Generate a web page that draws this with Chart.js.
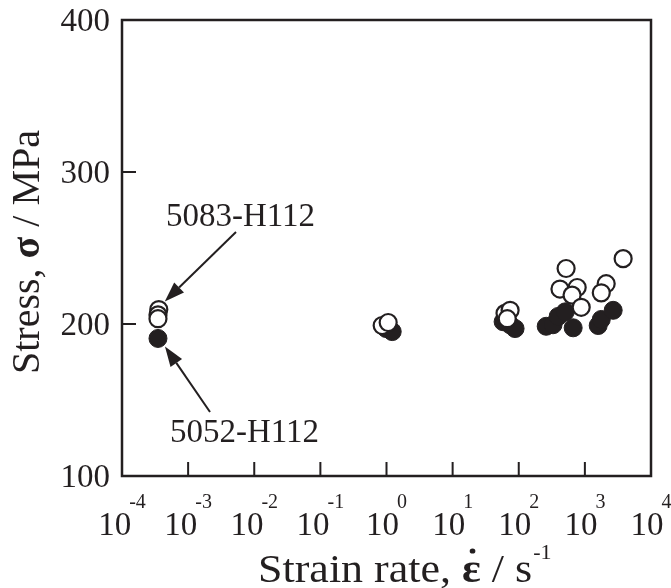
<!DOCTYPE html>
<html>
<head>
<meta charset="utf-8">
<script src="https://cdn.jsdelivr.net/npm/chart.js@4.4.1/dist/chart.umd.min.js"></script>
<style>
  html, body { margin: 0; background: #fff; }
  #wrap { width: 671px; height: 588px; }
</style>
</head>
<body>
<div id="wrap"><canvas id="chart"></canvas></div>
<script>
// 5083-H112 (open circles)
const rate5083   = [3.6e-4, 3.5e-4, 3.5e-4, 0.86, 1.06, 62, 74, 67, 520, 420, 765, 640, 880, 3790, 2100, 1770];
const stress5083 = [209.5, 206, 203.5, 199, 201, 207, 209, 203.5, 236.5, 223, 224, 219, 211, 243, 226.5, 220.5];
// 5052-H112 (filled circles)
const rate5052   = [3.5e-4, 0.99, 1.22, 58, 74, 88, 260, 330, 395, 505, 665, 1590, 1770, 2680];
const stress5052 = [190.5, 197, 195, 201.5, 199.5, 197, 198.5, 199.5, 205, 208, 197.5, 199, 203, 209];

const xExponents = [-4, -3, -2, -1, 0, 1, 2, 3, 4];
const yTicks = [100, 200, 300, 400];

const INK = '#231f20';
const SERIF = '"Liberation Serif", "Times New Roman", serif';

function arrow(ctx, x0, y0, x1, y1) {
  const ang = Math.atan2(y1 - y0, x1 - x0);
  const len = 20, half = 7;
  const bx = x1 - len * Math.cos(ang), by = y1 - len * Math.sin(ang);
  ctx.beginPath();
  ctx.moveTo(x0, y0);
  ctx.lineTo(bx, by);
  ctx.stroke();
  ctx.beginPath();
  ctx.moveTo(x1, y1);
  ctx.lineTo(bx + half * Math.sin(ang), by - half * Math.cos(ang));
  ctx.lineTo(bx - half * Math.sin(ang), by + half * Math.cos(ang));
  ctx.closePath();
  ctx.fill();
}

const decorations = {
  id: 'decorations',
  afterDatasetsDraw(chart) {
    const { ctx, chartArea: a, scales: { x, y } } = chart;
    ctx.save();
    ctx.strokeStyle = INK;
    ctx.fillStyle = INK;

    // frame + inward ticks
    ctx.lineWidth = 2.5;
    ctx.strokeRect(a.left, a.top, a.right - a.left, a.bottom - a.top);
    ctx.lineWidth = 2;
    ctx.beginPath();
    xExponents.slice(1, -1).forEach(e => {
      const px = x.getPixelForValue(Math.pow(10, e));
      ctx.moveTo(px, a.bottom); ctx.lineTo(px, a.bottom - 14);
    });
    yTicks.slice(1, -1).forEach(v => {
      const py = y.getPixelForValue(v);
      ctx.moveTo(a.left, py); ctx.lineTo(a.left + 14, py);
    });
    ctx.stroke();

    // y tick labels
    ctx.font = '33px ' + SERIF;
    ctx.textAlign = 'right';
    ctx.textBaseline = 'middle';
    yTicks.forEach(v => ctx.fillText(String(v), 110, y.getPixelForValue(v) + 2));

    // x tick labels: 10^e
    ctx.textAlign = 'left';
    ctx.textBaseline = 'alphabetic';
    xExponents.forEach(e => {
      const px = x.getPixelForValue(Math.pow(10, e));
      const ex = String(e);
      ctx.font = '33px ' + SERIF;
      const w10 = ctx.measureText('10').width;
      ctx.font = '20px ' + SERIF;
      const we = ctx.measureText(ex).width;
      const start = px - (w10 + we - 2) / 2;
      ctx.font = '33px ' + SERIF;
      ctx.fillText('10', start, 535);
      ctx.font = '20px ' + SERIF;
      ctx.fillText(ex, start + w10 - 2, 508);
    });

    // x axis title (slightly wide, as in the original)
    const xt = [
      ['Strain rate, ', '40px ' + SERIF],
      ['\u03b5', 'bold 40px ' + SERIF],
      [' / s', '40px ' + SERIF]
    ];
    ctx.save();
    ctx.translate(258, 582);
    ctx.scale(1.1, 1);
    let tx = 0;
    xt.forEach(([t, f], i) => {
      ctx.font = f;
      ctx.fillText(t, tx, 0);
      const w = ctx.measureText(t).width;
      if (i === 1) {
        ctx.beginPath();
        ctx.arc(tx + w / 2 + 1, -31, 2.6, 0, Math.PI * 2);
        ctx.fill();
      }
      tx += w;
    });
    ctx.font = '20px ' + SERIF;
    ctx.fillText('-1', tx + 1, -23);
    ctx.restore();

    // y axis title (rotated)
    const yt = [
      ['Stress, ', '40px ' + SERIF],
      ['\u03c3', 'bold 40px ' + SERIF],
      [' / MPa', '40px ' + SERIF]
    ];
    let total = 0;
    yt.forEach(([t, f]) => { ctx.font = f; total += ctx.measureText(t).width; });
    ctx.save();
    ctx.translate(39, 252);
    ctx.rotate(-Math.PI / 2);
    let ty = -total / 2;
    yt.forEach(([t, f]) => {
      ctx.font = f;
      ctx.fillText(t, ty, 0);
      ty += ctx.measureText(t).width;
    });
    ctx.restore();

    // annotations
    ctx.font = '33px ' + SERIF;
    ctx.fillText('5083-H112', 166, 226);
    ctx.fillText('5052-H112', 170, 442);
    ctx.lineWidth = 2;
    const t1x = x.getPixelForValue(rate5083[0]) + 6, t1y = y.getPixelForValue(stress5083[0]) - 8;
    arrow(ctx, 236, 232, t1x, t1y);
    const t2x = x.getPixelForValue(rate5052[0]) + 7, t2y = y.getPixelForValue(stress5052[0]) + 8;
    arrow(ctx, 210, 412, t2x, t2y);

    ctx.restore();
  }
};

const toPoints = (xs, ys) => xs.map((v, i) => ({ x: v, y: ys[i] }));

new Chart(document.getElementById('chart'), {
  type: 'scatter',
  data: {
    datasets: [
      {
        label: '5083-H112',
        data: toPoints(rate5083, stress5083),
        pointRadius: 8.5,
        pointBackgroundColor: '#ffffff',
        pointBorderColor: INK,
        pointBorderWidth: 2.2
      },
      {
        label: '5052-H112',
        data: toPoints(rate5052, stress5052),
        pointRadius: 9,
        pointBackgroundColor: INK,
        pointBorderColor: INK,
        pointBorderWidth: 1
      }
    ]
  },
  options: {
    responsive: true,
    maintainAspectRatio: false,
    animation: false,
    layout: { padding: { left: 122, right: 20, top: 20, bottom: 112 } },
    scales: {
      x: { type: 'logarithmic', min: 1e-4, max: 1e4, display: false },
      y: { type: 'linear', min: 100, max: 400, display: false }
    },
    plugins: {
      legend: { display: false },
      tooltip: { enabled: false }
    }
  },
  plugins: [decorations]
});
</script>
</body>
</html>
